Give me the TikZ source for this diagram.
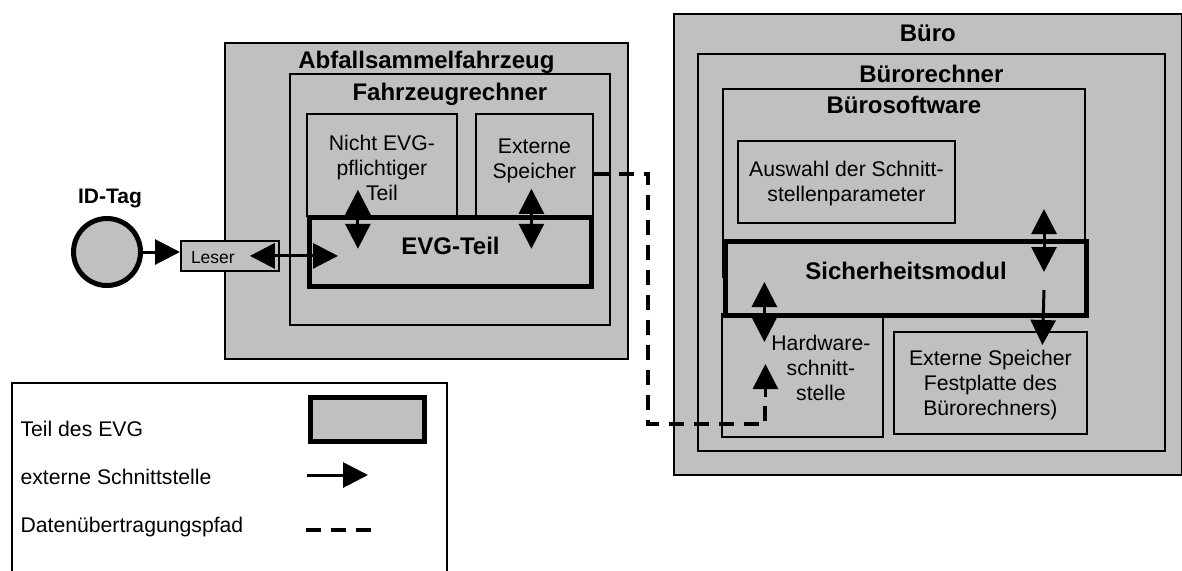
\documentclass[tikz,border=0pt]{standalone}
\usepackage{fontspec}
\setmainfont{Liberation Sans}
\usetikzlibrary{arrows.meta,positioning}
\definecolor{boxgray}{RGB}{192,192,192}

\tikzset{
  kasten/.style={draw, fill=boxgray, line width=1.8pt, inner sep=0pt, anchor=north west},
  evgbox/.style={kasten, line width=5pt},
  titel/.style={font=\bfseries\fontsize{24}{28}\selectfont},
  txt/.style={font=\fontsize{21.2}{25}\selectfont, align=center},
  schnitt/.style={line width=3pt, -{Triangle[length=25pt,width=25pt]}},
  schnitt2/.style={line width=3pt, {Triangle[length=25pt,width=25pt]}-{Triangle[length=25pt,width=25pt]}},
  pfad/.style={line width=4pt, dash pattern=on 15pt off 10pt},
}

\begin{document}
\begin{tikzpicture}[x=1pt,y=-1pt]
	\useasboundingbox (0,0) rectangle (1182,570);
	\clip (0,0) rectangle (1182,570);
	
	% Fahrzeug
	\node[kasten, minimum width=403, minimum height=316] (abf) at (224,42) {};
	\node[titel] at ([yshift=-20]abf.north) {Abfallsammelfahrzeug};
	\node[kasten, minimum width=320, minimum height=251] (fzr) at (289,73) {};
	\node[titel] at ([yshift=-21]fzr.north) {Fahrzeugrechner};
	\node[kasten, minimum width=150, minimum height=102] (nicht) at (306,113) {};
	\node[txt] at ([yshift=-3]nicht.center) {Nicht EVG-\\pflichtiger\\Teil};
	\node[kasten, minimum width=117, minimum height=102] (extsp) at (475,113) {};
	\node[txt] at ([yshift=3.5]extsp.center) {Externe\\Speicher};
	\node[evgbox, minimum width=282, minimum height=69] (evg) at (307,215) {};
	\node[titel] at ([yshift=6.5]evg.center) {EVG-Teil};
	
	% ID-Tag und Leser
	\node[circle, draw, fill=boxgray, line width=5pt, minimum size=67pt, inner sep=0pt] (idtag) at (107,252) {};
	\node[font=\bfseries\fontsize{21}{25}\selectfont] at ([xshift=3,yshift=54]idtag.center) {ID-Tag};
	\node[kasten, minimum width=98, minimum height=30] (leser) at (180,240) {};
	\node[font=\fontsize{17.5}{20}\selectfont] at ([xshift=-17,yshift=-2]leser.center) {Leser};
	
	% Buero
	\node[kasten, minimum width=508, minimum height=461] (buero) at (673,13) {};
	\node[titel] at ([yshift=-20]buero.north) {Büro};
	\node[kasten, minimum width=467, minimum height=397] (brech) at (697,53) {};
	\node[titel] at ([yshift=-21]brech.north) {Bürorechner};
	\node[kasten, minimum width=362, minimum height=188] (bsoft) at (722,88) {};
	\node[titel] at ([yshift=-17]bsoft.north) {Bürosoftware};
	\node[kasten, minimum width=217, minimum height=82] (auswahl) at (737,140) {};
	\node[txt] at ([yshift=-2]auswahl.center) {Auswahl der Schnitt-\\stellenparameter};
	\node[kasten, minimum width=161, minimum height=123] (hw) at (721,313) {};
	\node[txt] at ([xshift=18.5,yshift=7.5]hw.center) {Hardware-\\schnitt-\\stelle};
	\node[kasten, minimum width=193, minimum height=102] (fest) at (893,331) {};
	\node[txt] at ([yshift=-2]fest.center) {Externe Speicher\\Festplatte des\\Bürorechners)};
	\node[evgbox, minimum width=361, minimum height=74] (sm) at (723,239) {};
	\node[titel] at ([yshift=8]sm.center) {Sicherheitsmodul};
	
	% Schnittstellen
	\draw[schnitt] (idtag.east) -- (idtag.east -| leser.west);
	\coordinate (leserin) at ([xshift=-30]leser.east);
	\coordinate (evgin) at ([xshift=31]evg.west);
	\draw[schnitt2] (leserin) -- (leserin -| evgin);
	\draw[schnitt2] ([xshift=-24,yshift=27]nicht.south) -- ([xshift=-24,yshift=-32]nicht.south);
	\draw[schnitt2] ([xshift=-3,yshift=28]extsp.south) -- ([xshift=-3,yshift=-32]extsp.south);
	\draw[schnitt2] ([xshift=138,yshift=30]sm.north) -- ([xshift=138,yshift=-33]sm.north);
	\draw[schnitt] ([xshift=138,yshift=28]sm.south) -- ([xshift=52,yshift=-14]fest.north);
	\draw[schnitt2] ([xshift=-38,yshift=31]hw.north) -- ([xshift=-38,yshift=-29]hw.north);
	
	% Datenpfad
	\coordinate (hwein) at ([xshift=-37,yshift=-84]hw.north);
	\draw[pfad] ([yshift=-9]extsp.east) -| (648,424) -| (hwein);
	\draw[schnitt] (hwein) -- ([yshift=33]hwein);
	
	% Legende
	\node[kasten, fill=white, minimum width=435, minimum height=230] (legende) at (11,382) {};
	\node[evgbox, minimum width=114, minimum height=44] (legevg) at (308,395) {};
	\node[txt, anchor=west] (legt1) at (17,429) {Teil des EVG};
	\node[txt, anchor=west] (legt2) at (17,477) {externe Schnittstelle};
	\node[txt, anchor=west] (legt3) at (17,527) {Datenübertragungspfad};
	\coordinate (legpfeil) at (307,475);
	\draw[schnitt] (legpfeil) -- ++(61,0);
	\coordinate (legpfad) at (306,530);
	\draw[pfad] (legpfad) -- ++(66,0);
\end{tikzpicture}
\end{document}
